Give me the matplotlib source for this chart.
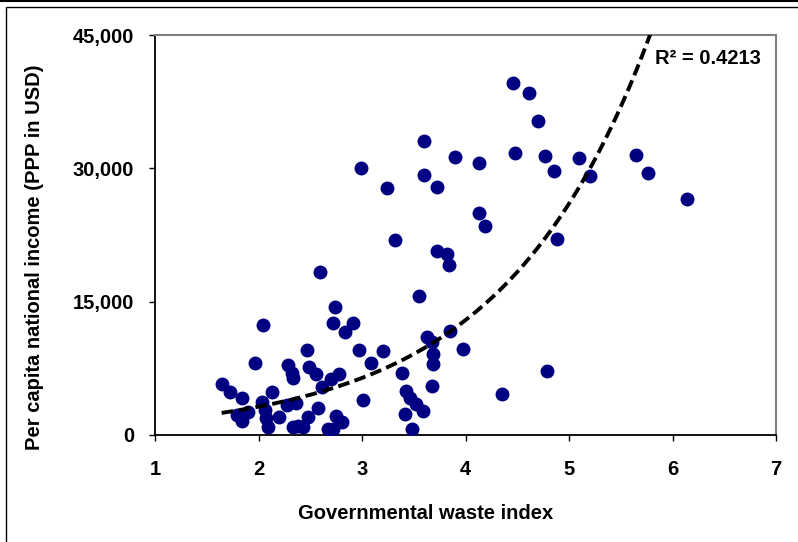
"""Governmental waste index vs per capita national income, with exponential trendline."""

import numpy as np
import matplotlib

matplotlib.use("Agg")
import matplotlib.pyplot as plt
from matplotlib.patches import Rectangle

NAVY = "#000080"
GREY = "#808080"

waste_index = [
    1.644, 1.728, 1.844, 1.795, 1.838, 1.901, 1.966, 2.037, 2.040, 2.063,
    2.072, 2.089, 2.127, 2.198, 2.288, 2.319, 2.329, 2.272, 2.359, 2.337,
    2.385, 2.427, 2.472, 2.491, 2.481, 2.556, 2.578, 2.594, 2.611, 2.675,
    2.723, 2.700, 2.780, 2.749, 2.804, 2.739, 2.723, 2.916, 2.836, 2.971,
    2.993, 3.006, 3.084, 3.206, 3.239, 3.319, 3.389, 3.422, 3.464, 3.519,
    3.592, 3.415, 3.486, 3.551, 3.599, 3.599, 3.625, 3.673, 3.688, 3.688,
    3.680, 3.729, 3.729, 3.818, 3.841, 3.850, 3.903, 3.979, 4.126, 4.130,
    4.184, 4.356, 4.456, 4.478, 4.609, 4.703, 4.768, 4.784, 4.852, 4.880,
    5.095, 5.201, 5.647, 5.766, 6.143,
]
income = [
    5700, 4840, 4120, 2250, 1610, 2620, 8140, 3670, 12400, 2810,
    1880, 940, 4880, 1990, 7910, 6940, 6380, 3400, 3560, 900,
    1000, 900, 9560, 7690, 2060, 6860, 3070, 18380, 5360, 640,
    640, 6260, 6830, 2140, 1500, 14360, 12640, 12640, 11620, 9560,
    30000, 3940, 8060, 9490, 27790, 21940, 6940, 4950, 4120, 3490,
    2700, 2330, 640, 15640, 33110, 29250, 10990, 10500, 9110, 7950,
    5510, 27900, 20700, 20360, 19160, 11740, 31310, 9640, 25010, 30640,
    23510, 4610, 39640, 31760, 38480, 35330, 31420, 7240, 29740, 22070,
    31200, 29140, 31460, 29440, 26550,
]
x_ticks = [1, 2, 3, 4, 5, 6, 7]
y_ticks = [0, 15000, 30000, 45000]
r2_label = "R\u00b2 = 0.4213"

plt.rcParams["font.family"] = ["Liberation Sans", "DejaVu Sans"]
FS = 14.5

fig = plt.figure(figsize=(7.98, 5.42), dpi=100)
# outer frame of the original picture
fig.add_artist(Rectangle((6 / 798, -0.05), 1.2, 1.05 - 7 / 542, transform=fig.transFigure,
                         fill=False, ec="black", lw=1.0))
fig.add_artist(plt.Line2D([0, 1], [1 - 1 / 542] * 2, transform=fig.transFigure,
                          color="black", lw=1.5))

ax = fig.add_axes([155 / 798, 107 / 542, 621 / 798, 400 / 542])

x = np.array(waste_index)
y = np.array(income)
ax.plot(x, y, "o", ms=9, color=NAVY, mec=NAVY, zorder=3)

# exponential trendline, fitted like Excel (linear fit on ln y)
b, ln_a = np.polyfit(x, np.log(y), 1)
xs = np.linspace(x.min(), x.max(), 300)
ax.plot(xs, np.exp(ln_a) * np.exp(b * xs), color="black", lw=2.8,
        ls=(0, (3, 1.4)), zorder=4)

ax.set_xlim(1, 7)
ax.set_ylim(0, 45000)
ax.set_xticks(x_ticks)
ax.set_yticks(y_ticks)
ax.set_yticklabels([f"{v:,}" for v in y_ticks])
ax.tick_params(axis="x", direction="out", length=4, width=1, pad=14, labelsize=FS)
ax.tick_params(axis="y", direction="out", length=4, width=1, pad=11, labelsize=FS)
for lbl in ax.get_xticklabels() + ax.get_yticklabels():
    lbl.set_fontweight("bold")

ax.spines["left"].set_linewidth(1.3)
ax.spines["bottom"].set_linewidth(1.3)
ax.spines["top"].set_color(GREY)
ax.spines["right"].set_color(GREY)
ax.spines["top"].set_linewidth(1.5)
ax.spines["right"].set_linewidth(1.5)

ax.set_xlabel("Governmental waste index", fontsize=FS, fontweight="bold")
ax.set_ylabel("Per capita national income (PPP in USD)", fontsize=FS, fontweight="bold")
ax.xaxis.set_label_coords(0.435, -0.172)
ax.yaxis.set_label_coords(-0.179, 0.445)

ax.text(0.805, 0.94, r2_label, transform=ax.transAxes, fontsize=FS,
        fontweight="bold", ha="left", va="center")

fig.savefig("out.png", dpi=100)
